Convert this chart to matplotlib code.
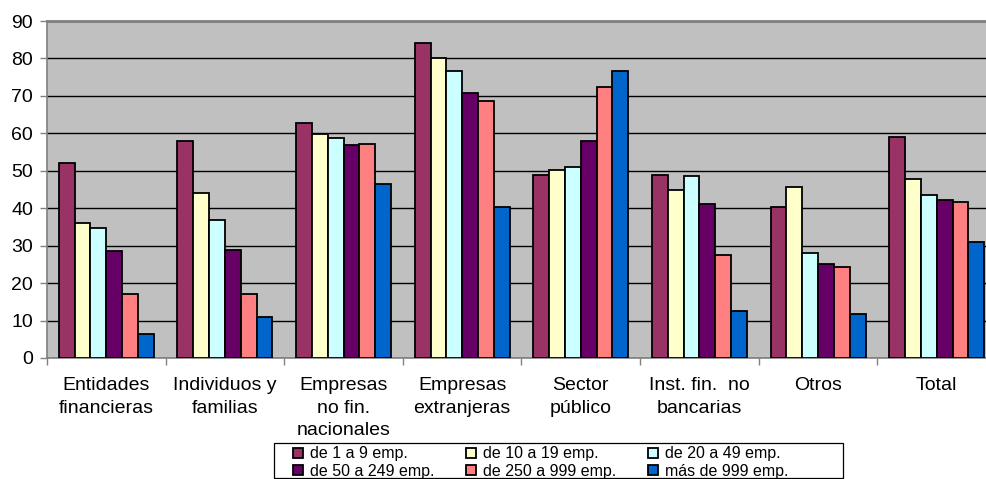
import numpy as np
import matplotlib.pyplot as plt
from matplotlib.patches import Rectangle

categories = ['Entidades\nfinancieras', 'Individuos y\nfamilias', 'Empresas\nno fin.\nnacionales',
              'Empresas\nextranjeras', 'Sector\npúblico', 'Inst. fin.  no\nbancarias', 'Otros', 'Total']
series = ['de 1 a 9 emp.', 'de 10 a 19 emp.', 'de 20 a 49 emp.',
          'de 50 a 249 emp.', 'de 250 a 999 emp.', 'más de 999 emp.']
emp_1_9 = [52.0, 58.0, 62.8, 84.2, 49.0, 48.8, 40.2, 59.0]
emp_10_19 = [36.0, 44.0, 59.8, 80.0, 50.3, 45.0, 45.8, 47.7]
emp_20_49 = [34.7, 36.8, 58.7, 76.7, 51.0, 48.7, 28.0, 43.5]
emp_50_249 = [28.5, 28.8, 57.0, 70.8, 58.0, 41.0, 25.0, 42.3]
emp_250_999 = [17.0, 17.0, 57.2, 68.7, 72.5, 27.6, 24.3, 41.6]
emp_999 = [6.5, 11.0, 46.5, 40.2, 76.7, 12.5, 11.8, 31.0]
values = [emp_1_9, emp_10_19, emp_20_49, emp_50_249, emp_250_999, emp_999]
colors = ['#993366', '#FFFFCC', '#CCFFFF', '#660066', '#FF8080', '#0066CC']

plt.rcParams['font.family'] = ['Liberation Sans', 'DejaVu Sans']

fig = plt.figure(figsize=(9.87, 4.79), dpi=100)
W, H = 987, 479
ax = fig.add_axes([47 / W, (H - 358) / H, 949 / W, 337 / H])
ax.set_facecolor('#C0C0C0')

x = np.arange(len(categories))
bw = 1 / 7.5
handles = []
for i, (vals, c, lab) in enumerate(zip(values, colors, series)):
    h = ax.bar(x + (i - 2.5) * bw, vals, bw, color=c, edgecolor='black',
               linewidth=1.3, label=lab, zorder=3)
    handles.append(h)

ax.set_xlim(-0.5, len(categories) - 0.5)
ax.set_ylim(0, 90)
ax.set_yticks(range(0, 91, 10))
ax.yaxis.grid(True, color='black', linewidth=1.0, zorder=1)
ax.set_axisbelow(True)

ax.set_xticks(np.arange(-0.5, len(categories), 1.0))
ax.set_xticklabels([])
ax.set_xticks(x, minor=True)
ax.set_xticklabels(categories, minor=True, fontsize=14, linespacing=1.45)
ax.tick_params(axis='x', which='minor', length=0, pad=13.5)
ax.tick_params(axis='x', which='major', length=5, color='#808080', width=1)
ax.tick_params(axis='y', length=5, color='#808080', width=1, labelsize=14, pad=5)

for s in ['left', 'bottom']:
    ax.spines[s].set_color('#808080')
    ax.spines[s].set_linewidth(1.2)
ax.spines['right'].set_visible(False)
ax.spines['top'].set_color('#808080')
ax.spines['top'].set_linewidth(2)

# legend box drawn separately (wider than its entries, as in the original)
fig.patches.append(Rectangle((274 / W, (H - 478) / H), (843 - 274) / W, 35 / H,
                             transform=fig.transFigure, facecolor='white',
                             edgecolor='black', linewidth=0.9))
order = [0, 3, 1, 4, 2, 5]
leg = fig.legend([handles[k] for k in order], [series[k] for k in order],
                 loc='center left', bbox_to_anchor=(293 / W, (H - 462.5) / H), ncol=3,
                 fontsize=11.5, frameon=False,
                 handlelength=0.6, handleheight=0.6, handletextpad=0.45,
                 columnspacing=2.0, labelspacing=0.15, borderpad=0,
                 borderaxespad=0)

fig.savefig('out.png', dpi=100)
